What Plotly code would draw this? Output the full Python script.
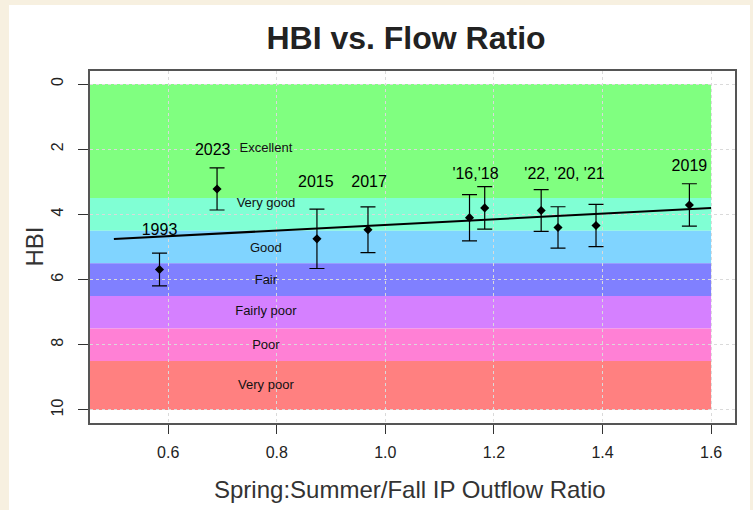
import numpy as np
import plotly.graph_objects as go

# ---- data ----
flow_ratio = [0.584, 0.690, 0.874, 0.968, 1.155, 1.183, 1.287, 1.318, 1.388, 1.560]
hbi = [5.69, 3.22, 4.75, 4.47, 4.10, 3.80, 3.88, 4.40, 4.34, 3.71]
hbi_err = [0.50, 0.645, 0.91, 0.70, 0.71, 0.65, 0.64, 0.635, 0.65, 0.65]

year_labels = ["1993", "2023", "2015", "2017", "'16,'18", "'22, '20, '21", "2019"]
year_label_x = [0.584, 0.682, 0.872, 0.970, 1.166, 1.330, 1.560]
year_label_y = [4.50, 2.04, 3.03, 3.03, 2.79, 2.79, 2.53]

class_names = ["Excellent", "Very good", "Good", "Fair", "Fairly poor", "Poor", "Very poor"]
class_bounds = [0, 3.5, 4.5, 5.5, 6.5, 7.5, 8.5, 10]
class_colors = ["#80FF80", "#80FFD4", "#80D4FF", "#8080FF", "#D580FF", "#FF80D5", "#FF8080"]
class_label_x = 0.78
class_label_y = [2.0, 3.68, 5.04, 6.04, 6.98, 8.02, 9.25]

x_ticks = [0.6, 0.8, 1.0, 1.2, 1.4, 1.6]
x_tick_text = ["0.6", "0.8", "1.0", "1.2", "1.4", "1.6"]
y_ticks = [0, 2, 4, 6, 8, 10]

fit_x_range = [0.5, 1.6]
x_range = [0.456, 1.644]
y_range = [10.4, -0.4]

# ---- layout geometry (pixels) ----
W, H = 753, 510
ML, MR, MT, MB = 90, 18, 71, 87
PW, PH = W - ML - MR, H - MT - MB
CREAM = "#F7F0E0"


def px2paper_x(px):
    return (px - ML) / PW


def px2paper_y(py):
    return (H - MB - py) / PH


FONT = "Liberation Sans, Arial, sans-serif"

fig = go.Figure()

# regression line from data
slope, intercept = np.polyfit(flow_ratio, hbi, 1)
fx = np.array(fit_x_range)
fig.add_trace(go.Scatter(x=fx, y=slope * fx + intercept, mode="lines",
                         line=dict(color="black", width=2), hoverinfo="skip",
                         showlegend=False))

# points with error bars
fig.add_trace(go.Scatter(
    x=flow_ratio, y=hbi, mode="markers",
    marker=dict(symbol="diamond", size=7, color="black"),
    error_y=dict(type="data", array=hbi_err, visible=True, color="black",
                 thickness=1.2, width=7.5),
    showlegend=False))

# year labels
fig.add_trace(go.Scatter(x=year_label_x, y=year_label_y, mode="text", text=year_labels,
                         textfont=dict(family=FONT, size=16, color="black"),
                         textposition="middle center", showlegend=False,
                         hoverinfo="skip"))

# class labels
fig.add_trace(go.Scatter(x=[class_label_x] * len(class_names), y=class_label_y,
                         mode="text", text=class_names,
                         textfont=dict(family=FONT, size=13, color="#111111"),
                         textposition="middle center", showlegend=False,
                         hoverinfo="skip"))

# white card behind chart
fig.add_shape(type="rect", xref="paper", yref="paper",
              x0=px2paper_x(9), x1=px2paper_x(750), y0=px2paper_y(515), y1=px2paper_y(5),
              fillcolor="white", line=dict(width=0), layer="below")

# class bands
for i, c in enumerate(class_colors):
    fig.add_shape(type="rect", xref="x", yref="y",
                  x0=x_range[0], x1=fit_x_range[1],
                  y0=class_bounds[i], y1=class_bounds[i + 1],
                  fillcolor=c, line=dict(width=0), layer="below")

fig.update_xaxes(range=x_range, tickvals=x_ticks, ticktext=x_tick_text,
                 showgrid=True, gridcolor="#DADADA", griddash="dot", gridwidth=1,
                 zeroline=False, showline=True, mirror=True, linecolor="#555555",
                 linewidth=1.5, ticks="outside", ticklen=9, tickcolor="#333333",
                 tickwidth=1.2, ticklabelstandoff=5,
                 tickfont=dict(family=FONT, size=16, color="#222222"))
fig.update_yaxes(range=y_range, tickvals=y_ticks,
                 showgrid=True, gridcolor="#DADADA", griddash="dot", gridwidth=1,
                 zeroline=False, showline=True, mirror=True, linecolor="#555555",
                 linewidth=1.5, ticks="outside", ticklen=10, tickcolor="#333333",
                 tickwidth=1.2, tickangle=-90, ticklabelstandoff=9,
                 tickfont=dict(family=FONT, size=16, color="#222222"))

fig.add_annotation(text="Spring:Summer/Fall IP Outflow Ratio", xref="paper", yref="paper",
                   x=px2paper_x(409.5), y=px2paper_y(489), showarrow=False,
                   xanchor="center", yanchor="middle",
                   font=dict(family=FONT, size=24, color="#333333"))
fig.add_annotation(text="HBI", xref="paper", yref="paper", textangle=-90,
                   x=px2paper_x(34), y=px2paper_y(246.5), showarrow=False,
                   xanchor="center", yanchor="middle",
                   font=dict(family=FONT, size=24, color="#333333"))

fig.update_layout(
    width=W, height=H, autosize=False,
    margin=dict(l=ML, r=MR, t=MT, b=MB),
    paper_bgcolor=CREAM, plot_bgcolor="white",
    title=dict(text="<b>HBI vs. Flow Ratio</b>", x=406 / W, xref="container",
               y=1 - 37.5 / H, yref="container", xanchor="center", yanchor="middle",
               font=dict(family=FONT, size=32, color="#222222")),
    showlegend=False,
)

page_fix = ("document.body.style.margin='0';document.body.style.padding='0';"
            "document.body.style.overflow='hidden';"
            "document.body.style.background='" + CREAM + "';")

fig.write_html("out.html", post_script=page_fix, config={"displayModeBar": False})
